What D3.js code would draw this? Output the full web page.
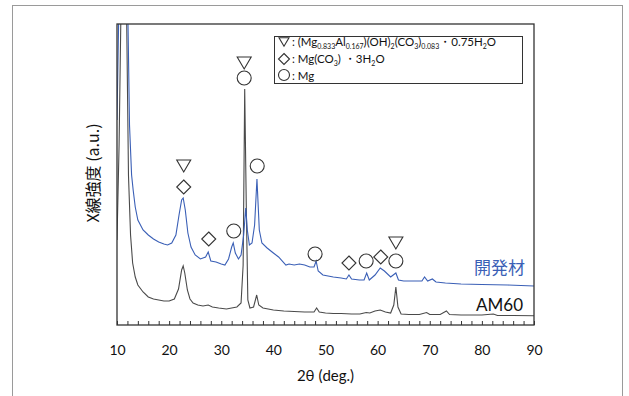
<!DOCTYPE html>
<html>
<head>
<meta charset="utf-8">
<script src="https://cdn.jsdelivr.net/npm/d3@7"></script>
<style>
  body { margin: 0; background: #fff; }
  svg { display: block; }
</style>
</head>
<body>
<svg id="chart" width="629" height="396"></svg>
<script>
// AM60 (grey) pattern, [2theta, intensity a.u.]
const am60 = [
  [10.0, 85], [10.4, 180], [10.8, 330], [11.3, 420], [11.8, 330], [12.2, 150], [12.6, 90],
  [13.0, 62], [13.5, 48], [14, 40], [15, 33], [16, 28], [17, 26], [18, 25], [19, 24], [20, 24],
  [21, 26], [21.8, 36], [22.4, 55], [22.7, 59], [23.0, 52], [23.5, 35], [24, 26], [24.6, 22],
  [25.5, 20], [26.5, 19], [27.5, 20], [28.3, 18], [29.5, 17], [31, 16], [32, 17], [33, 18],
  [33.8, 22], [34.2, 60], [34.5, 236], [34.8, 120], [35.1, 25], [35.5, 17], [36.2, 18],
  [36.8, 30], [37.2, 20], [38, 17], [39, 16], [40, 15], [42, 14], [44, 13.5], [46, 13],
  [47.8, 13], [48.3, 17], [48.8, 13], [50, 12], [51.5, 11.5], [53, 11.5], [55, 11], [56.6, 11],
  [57.8, 12.5], [58.5, 12], [59.5, 14], [60.5, 15], [61.5, 13], [62.5, 12], [63.1, 20],
  [63.5, 38], [63.9, 18], [64.5, 11], [66, 10.5], [68, 10.5], [69.4, 12.5], [70, 10.5],
  [72, 10.5], [73.2, 14], [73.8, 10.5], [76, 10], [80, 10], [82.2, 11], [83, 9.5], [86, 9.5], [90, 9.3]
];

// developed material (blue) pattern
const devMat = [
  [10.0, 205], [10.4, 330], [10.8, 420], [11.5, 450], [12.0, 340], [12.4, 200], [12.8, 150],
  [13.1, 135], [13.5, 118], [14, 105], [15, 95], [16, 90], [17, 86], [18, 83], [19, 81],
  [19.7, 80], [20.5, 82], [21.3, 90], [21.9, 110], [22.4, 125], [22.7, 127], [23.1, 115],
  [23.6, 92], [24.2, 78], [25, 70], [26, 66], [27, 68], [27.5, 73], [28, 64], [29, 63],
  [30, 61], [30.7, 60], [31.4, 66], [32.0, 78], [32.3, 82], [32.7, 72], [33.3, 66], [33.8, 70],
  [34.3, 90], [34.7, 117], [35.0, 95], [35.4, 80], [35.9, 82], [36.4, 100], [36.85, 146],
  [37.3, 95], [37.8, 82], [38.8, 77], [40, 72], [41, 68], [42.4, 60], [43, 61], [44, 60],
  [45, 61], [46, 60], [47, 58], [47.8, 58], [48.2, 64], [48.6, 54], [49.5, 50], [51.5, 48],
  [53, 47], [54, 46], [54.5, 50], [55, 46], [56.5, 45], [57.4, 45], [57.9, 52], [58.4, 45],
  [59.5, 50], [60.5, 57], [61.3, 54], [62.5, 48], [63.5, 52], [64, 45], [65, 44], [67, 44],
  [68.5, 44], [69, 48], [69.6, 44], [70.5, 46], [71.2, 43], [73, 42], [76, 41], [80, 40.5],
  [85, 40], [90, 39]
];

// peak markers: [symbol, 2theta, level]
const peakMarks = [
  ["tri", 22.8, 159], ["dia", 22.8, 138],
  ["dia", 27.6, 86],
  ["cir", 32.4, 94],
  ["tri", 34.4, 262], ["cir", 34.4, 247],
  ["cir", 36.9, 159],
  ["cir", 48.0, 71],
  ["dia", 54.5, 62],
  ["cir", 57.8, 64],
  ["dia", 60.6, 68],
  ["tri", 63.5, 82], ["cir", 63.5, 64]
];

const xTicks = d3.range(10, 91, 2);
const xLabels = [10, 20, 30, 40, 50, 60, 70, 80, 90];

const svg = d3.select("#chart");
const pLeft = 117, pRight = 534, pTop = 24, pBottom = 325;
const latin = "Lato, 'Noto Sans', sans-serif";
const jp = "'Noto Sans CJK JP', sans-serif";

// outer frame
svg.append("rect").attr("x", 12.5).attr("y", 5.5).attr("width", 610).attr("height", 400)
  .attr("fill", "none").attr("stroke", "#9a9a9a").attr("stroke-width", 1);

const x = d3.scaleLinear().domain([10, 90]).range([pLeft, pRight]);
const y = d3.scaleLinear().domain([0, 301]).range([pBottom, pTop]);

svg.append("clipPath").attr("id", "plotclip")
  .append("rect").attr("x", pLeft).attr("y", pTop).attr("width", pRight - pLeft).attr("height", pBottom - pTop);

const line = d3.line().x(d => x(d[0])).y(d => y(d[1]));

const g = svg.append("g").attr("clip-path", "url(#plotclip)");
g.append("path").datum(am60).attr("d", line)
  .attr("fill", "none").attr("stroke", "#4a4a4a").attr("stroke-width", 1.1);
g.append("path").datum(devMat).attr("d", line)
  .attr("fill", "none").attr("stroke", "#3a5fb6").attr("stroke-width", 1.1);

// plot frame
svg.append("rect").attr("x", pLeft).attr("y", pTop).attr("width", pRight - pLeft).attr("height", pBottom - pTop)
  .attr("fill", "none").attr("stroke", "#333").attr("stroke-width", 1.3);

// bottom axis with inward ticks
const xAxis = d3.axisBottom(x).tickValues(xTicks).tickSizeInner(-4).tickSizeOuter(0).tickPadding(20)
  .tickFormat(d => xLabels.includes(d) ? d : "");
const ax = svg.append("g").attr("transform", `translate(0,${pBottom})`).call(xAxis);
ax.select(".domain").remove();
ax.selectAll("line").attr("stroke", "#333");
ax.selectAll("text").attr("font-family", latin).attr("font-size", 14).attr("fill", "#111");

svg.append("text").attr("x", (pLeft + pRight) / 2).attr("y", 381).attr("text-anchor", "middle")
  .attr("font-family", latin).attr("font-size", 15).attr("fill", "#111")
  .text("2θ (deg.)");

svg.append("text").attr("transform", "translate(99,173) rotate(-90)").attr("text-anchor", "middle")
  .attr("font-family", jp).attr("font-size", 16).attr("fill", "#111")
  .text("X線強度 (a.u.)");

// marker shapes
function drawMark(sel, kind, cx, cy, s) {
  let el;
  if (kind === "cir") {
    el = sel.append("circle").attr("cx", cx).attr("cy", cy).attr("r", s / 2);
  } else if (kind === "tri") {
    const h = s * 0.85;
    el = sel.append("path").attr("d", `M${cx - s / 2},${cy - h / 2}L${cx + s / 2},${cy - h / 2}L${cx},${cy + h / 2}Z`);
  } else {
    el = sel.append("path").attr("d", `M${cx},${cy - s / 2}L${cx + s / 2},${cy}L${cx},${cy + s / 2}L${cx - s / 2},${cy}Z`);
  }
  el.attr("fill", "none").attr("stroke", "#333").attr("stroke-width", 1.1);
}

peakMarks.forEach(m => drawMark(svg, m[0], x(m[1]), y(m[2]), 14));

// series labels
svg.append("text").attr("x", 525).attr("y", 274).attr("text-anchor", "end")
  .attr("font-family", jp).attr("font-size", 17).attr("fill", "#3a5fb6").text("開発材");
svg.append("text").attr("x", 523).attr("y", 311).attr("text-anchor", "end")
  .attr("font-family", latin).attr("font-size", 17).attr("fill", "#111").text("AM60");

// legend
const lg = svg.append("g");
lg.append("rect").attr("x", 274.5).attr("y", 36.5).attr("width", 248).attr("height", 47)
  .attr("fill", "#fff").attr("stroke", "#333").attr("stroke-width", 1);
drawMark(lg, "tri", 284, 42, 10);
drawMark(lg, "dia", 284, 59, 11);
drawMark(lg, "cir", 284, 75, 11);

const legendRows = [
  [[" : (Mg", 0], ["0.833", 1], ["Al", 0], ["0.167", 1], [")(OH)", 0], ["2", 1], ["(CO", 0], ["3", 1], [")", 0], ["0.083", 1], ["・0.75H", 0], ["2", 1], ["O", 0]],
  [[" : Mg(CO", 0], ["3", 1], [") ・3H", 0], ["2", 1], ["O", 0]],
  [[" : Mg", 0]]
];
legendRows.forEach((row, i) => {
  const t = lg.append("text").attr("x", 289).attr("y", 46 + i * 17)
    .attr("font-family", latin).attr("font-size", 11.5).attr("fill", "#111")
    .attr("xml:space", "preserve");
  row.forEach(([s, sub], j) => {
    const ts = t.append("tspan").text(s);
    if (sub) ts.attr("font-size", 7).attr("dy", 2.5);
    else if (j > 0) ts.attr("dy", -2.5);
  });
});
</script>
</body>
</html>
